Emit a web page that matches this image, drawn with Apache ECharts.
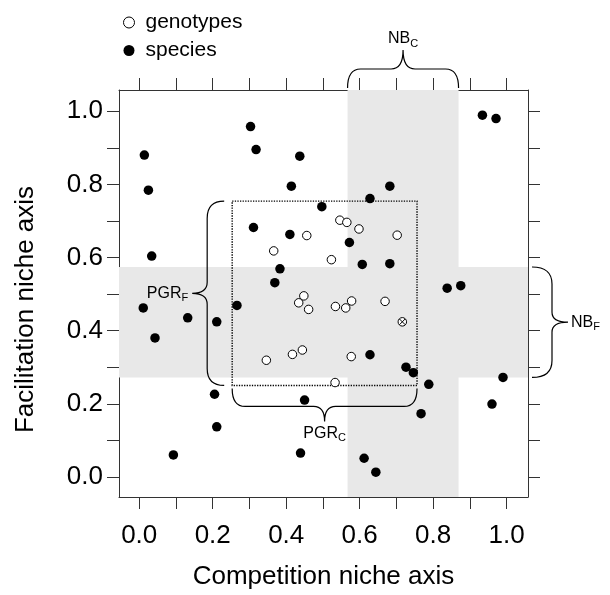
<!DOCTYPE html>
<html><head><meta charset="utf-8">
<script src="https://cdn.jsdelivr.net/npm/echarts@6/dist/echarts.min.js"></script>
<style>html,body{margin:0;padding:0;background:#fff}#c{width:610px;height:595px}</style>
</head><body><div id="c"></div>
<script>
// ---- data ----
const species = [
  [0.303,0.958],[0.318,0.895],[0.437,0.877],[0.014,0.880],[0.025,0.784],
  [0.414,0.795],[0.497,0.739],[0.311,0.682],[0.410,0.663],[0.572,0.641],
  [0.034,0.604],[0.383,0.569],[0.369,0.531],[0.011,0.462],[0.132,0.435],
  [0.211,0.424],[0.266,0.469],[0.934,0.989],[0.971,0.980],[0.682,0.795],
  [0.628,0.761],[0.607,0.581],[0.682,0.583],[0.838,0.516],[0.875,0.523],
  [0.043,0.380],[0.205,0.226],[0.211,0.137],[0.093,0.060],[0.450,0.210],
  [0.439,0.065],[0.628,0.334],[0.726,0.300],[0.746,0.285],[0.788,0.253],
  [0.767,0.173],[0.612,0.051],[0.644,0.013],[0.990,0.272],[0.960,0.199]
];
const genotypes = [
  [0.546,0.702],[0.565,0.696],[0.456,0.660],[0.366,0.618],[0.523,0.594],
  [0.598,0.678],[0.702,0.661],[0.448,0.495],[0.434,0.476],[0.461,0.458],
  [0.534,0.466],[0.562,0.462],[0.578,0.481],[0.669,0.480],[0.346,0.319],
  [0.417,0.335],[0.444,0.347],[0.533,0.258],[0.577,0.329]
];
const markedGenotype = [[0.716,0.424]];
const tickValues = [0,0.1,0.2,0.3,0.4,0.5,0.6,0.7,0.8,0.9,1.0];
const labelValues = [0,0.2,0.4,0.6,0.8,1.0];
const bandNBC = [0.567, 0.869];   // competition niche breadth (x)
const bandNBF = [0.272, 0.574];   // facilitation niche breadth (y)
const boxPGRC = [0.253, 0.756];   // PGR on competition axis (x)
const boxPGRF = [0.250, 0.754];   // PGR on facilitation axis (y)
const axisMin = -0.055, axisMax = 1.058;

// ---- chart ----
const FONT = '"Liberation Sans", Arial, Helvetica, sans-serif';
const chart = echarts.init(document.getElementById('c'), null, {renderer:'canvas'});

const axisCommon = {
  type:'value', min:axisMin, max:axisMax, splitLine:{show:false},
  axisLine:{show:true, onZero:false, lineStyle:{color:'#333', width:1}},
  axisTick:{show:true, customValues:tickValues, length:12, lineStyle:{color:'#333', width:1}}
};
const labelCommon = {customValues:labelValues, formatter:v=>v.toFixed(1), fontSize:26, color:'#000', fontFamily:FONT};

const rich = {
  n:{fontSize:16, fontFamily:FONT, color:'#000', lineHeight:20},
  s:{fontSize:11, fontFamily:FONT, color:'#000', lineHeight:11, verticalAlign:'bottom'}
};

function bracePath(horizontal, u0, u1, vb, s, d1, d2, rE, rM) {
  const um = (u0+u1)/2, vl = vb + s*d1, vt = vb + s*d2;
  const P = (u,v) => horizontal ? (u.toFixed(2)+','+v.toFixed(2)) : (v.toFixed(2)+','+u.toFixed(2));
  return 'M'+P(u0,vb)+' Q'+P(u0,vl)+' '+P(u0+rE,vl)+' L'+P(um-rM,vl)+' Q'+P(um,vl)+' '+P(um,vt)+
         ' Q'+P(um,vl)+' '+P(um+rM,vl)+' L'+P(u1-rE,vl)+' Q'+P(u1,vl)+' '+P(u1,vb);
}

function renderRegions(params, api) {
  const a = api.coord([bandNBC[0], axisMax]), b = api.coord([bandNBC[1], axisMin]);
  const c = api.coord([axisMin, bandNBF[1]]), d = api.coord([axisMax, bandNBF[0]]);
  const e = api.coord([boxPGRC[0], boxPGRF[1]]), f = api.coord([boxPGRC[1], boxPGRF[0]]);
  return {type:'group', children:[
    {type:'rect', shape:{x:a[0], y:a[1], width:b[0]-a[0], height:b[1]-a[1]}, style:{fill:'#e8e8e8'}},
    {type:'rect', shape:{x:c[0], y:c[1], width:d[0]-c[0], height:d[1]-c[1]}, style:{fill:'#e8e8e8'}},
    {type:'rect', shape:{x:e[0], y:e[1], width:f[0]-e[0], height:f[1]-e[1]},
      style:{fill:'none', stroke:'#000', lineWidth:1.4, lineDash:[1.3,1.3]}}
  ]};
}

function renderBraces(params, api) {
  const st = {fill:'none', stroke:'#000', lineWidth:1.2};
  // NB_C (top)
  const t0 = api.coord([bandNBC[0], axisMax]), t1 = api.coord([bandNBC[1], axisMax]);
  const tb = t0[1]-2;
  // NB_F (right)
  const r0 = api.coord([axisMax, bandNBF[1]]), r1 = api.coord([axisMax, bandNBF[0]]);
  const rb = r0[0]+4;
  // PGR_F (left of box)
  const l0 = api.coord([boxPGRC[0], boxPGRF[1]]), l1 = api.coord([boxPGRC[0], boxPGRF[0]]);
  const lb = l0[0]-8;
  // PGR_C (below box)
  const b0 = api.coord([boxPGRC[0], boxPGRF[0]]), b1 = api.coord([boxPGRC[1], boxPGRF[0]]);
  const bb = b0[1]+3;
  const tm = (t0[0]+t1[0])/2, rm = (r0[1]+r1[1])/2, lm = (l0[1]+l1[1])/2, bm = (b0[0]+b1[0])/2;
  return {type:'group', children:[
    {type:'path', shape:{pathData:bracePath(true, t0[0], t1[0], tb, -1, 19, 38, 13, 12)}, style:st},
    {type:'path', shape:{pathData:bracePath(false, r0[1], r1[1], rb, 1, 20, 36, 17, 10)}, style:st},
    {type:'path', shape:{pathData:bracePath(false, l0[1], l1[1], lb, -1, 17, 32, 17, 11)}, style:st},
    {type:'path', shape:{pathData:bracePath(true, b0[0], b1[0], bb, 1, 18, 33, 13, 11)}, style:st},
    {type:'text', x:tm, y:tb-38-1, style:{text:'{n|NB}{s|C}', rich:rich, align:'center', verticalAlign:'bottom'}},
    {type:'text', x:rb+36+3, y:rm, style:{text:'{n|NB}{s|F}', rich:rich, align:'left', verticalAlign:'middle'}},
    {type:'text', x:lb-32-4, y:lm, style:{text:'{n|PGR}{s|F}', rich:rich, align:'right', verticalAlign:'middle'}},
    {type:'text', x:bm, y:bb+33+2, style:{text:'{n|PGR}{s|C}', rich:rich, align:'center', verticalAlign:'top'}}
  ]};
}

const option = {
  backgroundColor:'#fff',
  animation:false,
  grid:{left:119, right:82, top:90, bottom:96, containLabel:false},
  legend:{
    data:[{name:'genotypes', icon:'circle', itemStyle:{color:'#fff', borderColor:'#000', borderWidth:1}},
          {name:'species', icon:'circle', itemStyle:{color:'#000'}}],
    orient:'vertical', left:123, top:12, padding:0, itemWidth:23, itemHeight:11, itemGap:7,
    symbolKeepAspect:true, selectedMode:false,
    textStyle:{fontSize:21, fontFamily:FONT, color:'#000'}
  },
  xAxis:[
    Object.assign({}, axisCommon, {position:'bottom', axisLabel:Object.assign({}, labelCommon, {margin:26}),
      name:'Competition niche axis', nameLocation:'middle', nameGap:67,
      nameTextStyle:{fontSize:26, color:'#000', fontFamily:FONT}}),
    Object.assign({}, axisCommon, {position:'top', axisLabel:{show:false}})
  ],
  yAxis:[
    Object.assign({}, axisCommon, {position:'left', axisLabel:Object.assign({}, labelCommon, {margin:16}),
      name:'Facilitation niche axis', nameLocation:'middle', nameGap:80,
      nameTextStyle:{fontSize:26, color:'#000', fontFamily:FONT, padding:[0,32,0,0]}}),
    Object.assign({}, axisCommon, {position:'right', axisLabel:{show:false}})
  ],
  series:[
    {type:'custom', name:'regions', coordinateSystem:'cartesian2d', xAxisIndex:0, yAxisIndex:0,
      data:[[0,0]], renderItem:renderRegions, clip:false, silent:true, z:1},
    {type:'scatter', name:'genotypes', data:genotypes, symbol:'circle', symbolSize:8.5,
      itemStyle:{color:'#fff', borderColor:'#000', borderWidth:1, opacity:1}, z:3},
    {type:'scatter', name:'marked', data:markedGenotype, symbolSize:8.5,
      symbol:'path://M10,5A5,5,0,1,1,0,5A5,5,0,1,1,10,5ZM1.6,1.6L8.4,8.4M8.4,1.6L1.6,8.4',
      itemStyle:{color:'#fff', borderColor:'#000', borderWidth:1, opacity:1}, z:3},
    {type:'scatter', name:'species', data:species, symbol:'circle', symbolSize:9.5,
      itemStyle:{color:'#000', opacity:1}, z:4},
    {type:'custom', name:'braces', coordinateSystem:'cartesian2d', xAxisIndex:0, yAxisIndex:0,
      data:[[0,0]], renderItem:renderBraces, clip:false, silent:true, z:5}
  ]
};
chart.setOption(option);
</script>
</body></html>
